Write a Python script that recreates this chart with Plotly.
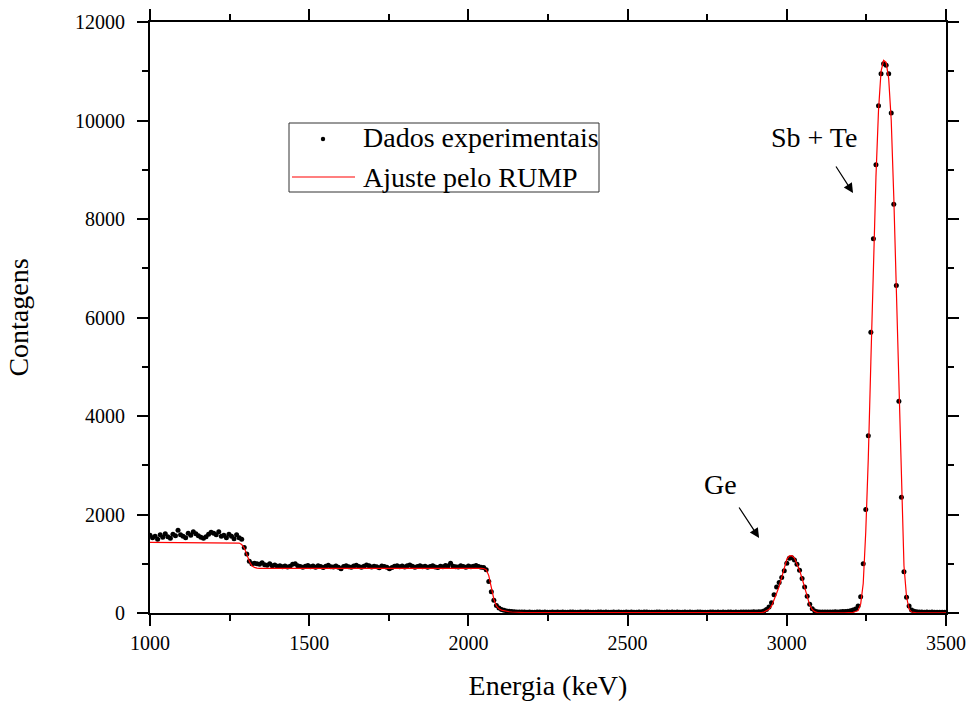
import numpy as np
import plotly.graph_objects as go

# --- Spectrum: channel calibration ---
E0_KEV = 1000.0
KEV_PER_CHANNEL = 8.0

# Measured counts, channel by channel, split by spectral region
counts_low_plateau = [1580, 1530, 1560, 1500, 1590, 1540, 1610, 1550, 1520, 1600,
                      1570, 1680, 1590, 1560, 1530, 1620, 1580, 1650, 1610, 1570,
                      1540, 1520, 1550, 1600, 1640, 1620, 1590, 1650, 1560, 1580,
                      1530, 1600, 1560, 1510, 1590, 1530, 1500]
counts_first_step = [1330, 1200, 1050, 1000]
counts_mid_plateau = [1010, 1000, 990, 1020, 980, 970, 1000, 960, 975, 950,
                      960, 940, 955, 935, 950, 990, 1000, 960, 945, 930,
                      950, 965, 940, 955, 930, 960, 945, 925, 950, 970,
                      940, 935, 955, 930, 900, 945, 960, 940, 930, 955,
                      970, 945, 930, 950, 975, 960, 935, 950, 940, 920,
                      955, 945, 930, 900, 925, 950, 960, 940, 955, 935,
                      960, 975, 950, 930, 945, 960, 940, 950, 930, 945,
                      960, 935, 925, 950, 940, 965, 955, 1010, 950, 940,
                      935, 960, 945, 930, 955, 940, 950, 965, 945, 930,
                      925]
counts_second_step = [880, 640, 430, 260, 150, 100, 72, 55, 42, 34, 28, 24, 22, 20, 19]
counts_baseline = [18, 16, 20, 17, 15, 19, 21, 16, 18, 14,
                   17, 20, 15, 18, 16, 19, 17, 14, 18, 20,
                   16, 15, 19, 17, 18, 21, 16, 14, 17, 19,
                   18, 15, 20, 16, 17, 18, 14, 19, 16, 17,
                   20, 15, 18, 17, 16, 19, 14, 18, 20, 16,
                   17, 15, 19, 18, 16, 17, 21, 15, 18, 16,
                   19, 17, 14, 18, 16, 20, 17, 15, 18, 19,
                   16, 17, 15, 18, 20, 16, 19, 17, 18, 16,
                   21, 18, 17, 19, 16, 18, 20, 19, 22, 21,
                   23, 22, 24]
counts_ge_peak = [25, 40, 70, 120, 210, 370, 530, 620, 720, 860,
                  1010, 1110, 1120, 1075, 990, 870, 700, 530, 340, 180,
                  85, 40, 25]
counts_gap = [20, 19, 22, 18, 21, 20, 24, 22, 26, 28, 32, 38, 48, 60, 80]
counts_sbte_peak = [140, 330, 1000, 2100, 3600, 5700, 7600, 9100, 10300, 10950,
                    11150, 11120, 10950, 10150, 8300, 6650, 4300, 2350, 840, 320,
                    140, 60, 35, 25]
counts_tail = [20, 18, 17, 19, 16, 18, 17, 15, 16, 17, 15]

counts = np.array(counts_low_plateau + counts_first_step + counts_mid_plateau
                  + counts_second_step + counts_baseline + counts_ge_peak
                  + counts_gap + counts_sbte_peak + counts_tail, dtype=float)
energy = E0_KEV + KEV_PER_CHANNEL * np.arange(counts.size)

# RUMP simulation curve
fit_energy = [1000, 1264, 1272, 1280, 1288, 1296, 1304, 1312, 1320, 1328, 1336, 1344,
              2040, 2048, 2056, 2064, 2072, 2080, 2088, 2096, 2104, 2112, 2120, 2128,
              2136, 2152, 2176, 2240, 2400, 2900, 2920, 2928, 2936, 2944, 2952, 2960,
              2968, 2976, 2984, 2992, 3000, 3008, 3016, 3024, 3032, 3040, 3048, 3056,
              3064, 3072, 3080, 3088, 3096, 3104, 3120, 3180, 3200, 3208, 3216, 3224,
              3232, 3240, 3248, 3256, 3264, 3272, 3280, 3288, 3296, 3304, 3312, 3320,
              3328, 3336, 3344, 3352, 3360, 3368, 3376, 3384, 3392, 3400, 3408, 3424,
              3500]
fit_counts = [1435, 1435, 1432, 1420, 1390, 1320, 1190, 1050, 960, 925, 912, 908,
              908, 903, 880, 760, 520, 280, 145, 85, 58, 42, 32, 25,
              20, 14, 10, 7, 5, 5, 8, 18, 40, 75, 140, 260,
              400, 540, 710, 930, 1090, 1160, 1163, 1115, 1000, 870, 700, 500,
              310, 160, 70, 28, 10, 5, 4, 5, 8, 14, 30, 50,
              180, 600, 1650, 3150, 5100, 7150, 8850, 10200, 11000, 11220, 11180, 10850,
              10000, 8450, 6550, 4350, 2400, 960, 330, 80, 20, 8, 4, 3,
              3]

x_ticks = [1000, 1500, 2000, 2500, 3000, 3500]
y_ticks = [0, 2000, 4000, 6000, 8000, 10000, 12000]

legend_labels = ["Dados experimentais", "Ajuste pelo RUMP"]
peak_labels = ["Sb + Te", "Ge"]

SERIF = "Liberation Serif"

fig = go.Figure()
fig.add_trace(go.Scatter(
    x=energy, y=counts, mode="markers", name=legend_labels[0],
    marker=dict(color="black", size=5), showlegend=False,
))
fig.add_trace(go.Scatter(
    x=fit_energy, y=fit_counts, mode="lines", name=legend_labels[1],
    line=dict(color="#ff0000", width=1.2), showlegend=False,
))

axis_common = dict(
    showline=True, linecolor="black", linewidth=2, mirror="ticks",
    ticks="outside", ticklen=11, tickwidth=2, tickcolor="black",
    showgrid=False, zeroline=False, automargin=False,
    tickfont=dict(family=SERIF, size=20, color="black"),
)

fig.update_layout(
    width=970, height=704,
    margin=dict(l=150, r=24, t=22, b=91),
    paper_bgcolor="white", plot_bgcolor="white",
    font=dict(family=SERIF, color="black"),
    xaxis=dict(
        range=[1000, 3500], tickvals=x_ticks, ticklabelstandoff=0,
        minor=dict(ticks="outside", ticklen=6, tickwidth=2, tickcolor="black", dtick=250),
        title=dict(text="Energia (keV)", font=dict(family=SERIF, size=28), standoff=22),
        **axis_common,
    ),
    yaxis=dict(
        range=[0, 12000], tickvals=y_ticks, tickformat="d",
        minor=dict(ticks="outside", ticklen=6, tickwidth=2, tickcolor="black", dtick=1000),
        title=dict(text="Contagens", font=dict(family=SERIF, size=28), standoff=38),
        ticklabelstandoff=8,
        **axis_common,
    ),
)

# Legend frame and entries
def px_x(p):
    return (p - 150) / 796.0

def px_y(p):
    return (613 - p) / 591.0

fig.add_shape(type="rect", xref="paper", yref="paper",
              x0=px_x(289), x1=px_x(599), y0=px_y(192), y1=px_y(123),
              line=dict(color="#333333", width=1), fillcolor="white", layer="above")
fig.add_shape(type="circle", xref="paper", yref="paper",
              xsizemode="pixel", ysizemode="pixel",
              xanchor=px_x(323), yanchor=px_y(139),
              x0=-2.2, x1=2.2, y0=-2.2, y1=2.2,
              line=dict(color="black", width=0), fillcolor="black", layer="above")
fig.add_shape(type="line", xref="paper", yref="paper",
              x0=px_x(292), x1=px_x(355), y0=px_y(177), y1=px_y(177),
              line=dict(color="#ff0000", width=1.2), layer="above")
for label, ypix in zip(legend_labels, [138, 177]):
    fig.add_annotation(xref="paper", yref="paper", x=px_x(361), y=px_y(ypix),
                       text=label, showarrow=False, xanchor="left", yanchor="middle",
                       font=dict(family=SERIF, size=28, color="black"))

# Peak labels and arrows
fig.add_annotation(x=3085, y=9665, text=peak_labels[0], showarrow=False,
                   font=dict(family=SERIF, size=28, color="black"))
fig.add_annotation(x=3208, y=8528, ax=-18, ay=-28, text="", showarrow=True,
                   arrowhead=2, arrowsize=1.6, arrowwidth=1.2, arrowcolor="black")
fig.add_annotation(x=2793, y=2619, text=peak_labels[1], showarrow=False,
                   font=dict(family=SERIF, size=28, color="black"))
fig.add_annotation(x=2913, y=1523, ax=-21, ay=-32, text="", showarrow=True,
                   arrowhead=2, arrowsize=1.6, arrowwidth=1.2, arrowcolor="black")

fig.write_html("out.html")
